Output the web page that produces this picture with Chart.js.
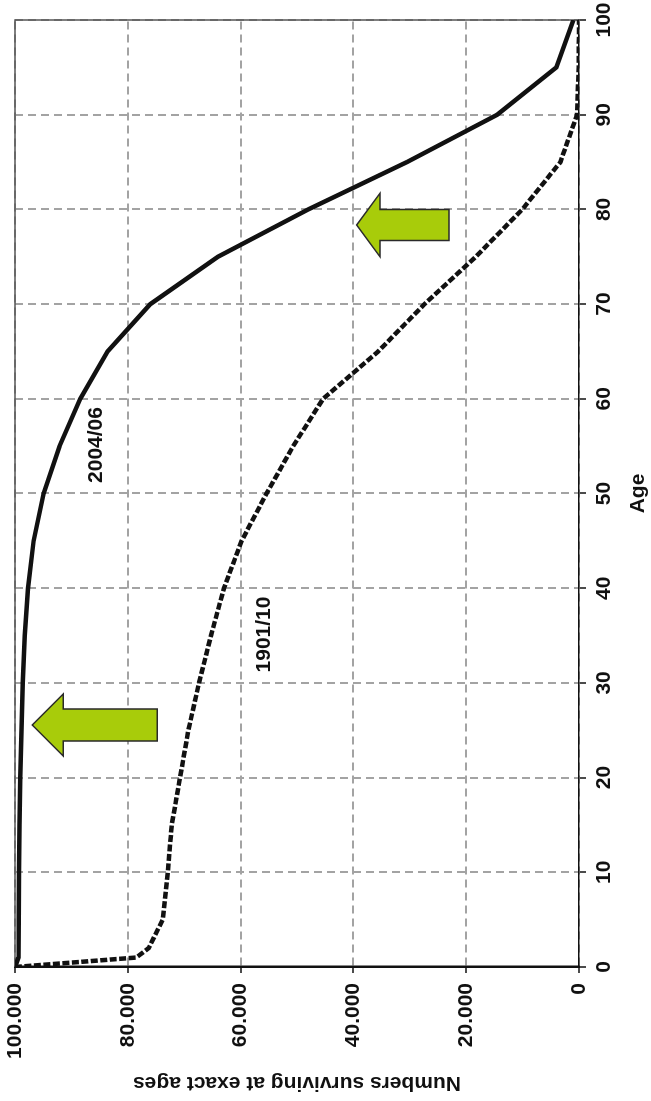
<!DOCTYPE html>
<html><head><meta charset="utf-8">
<script src="https://cdn.jsdelivr.net/npm/chart.js@4.4.1/dist/chart.umd.min.js"></script>
<style>
html,body{margin:0;padding:0;background:#fff;width:651px;height:1101px;overflow:hidden;}
#wrap{position:absolute;left:0;top:0;width:1101px;height:651px;transform-origin:0 0;transform:translate(0px,1101px) rotate(-90deg);}
</style></head><body>
<div id="wrap"><canvas id="c" width="1101" height="651"></canvas></div>
<script>
// ---- data ----
const seriesNames = ['2004/06', '1901/10'];
const ages2004 = [0, 1, 5, 10, 15, 20, 25, 30, 35, 40, 45, 50, 55, 60, 65, 70, 75, 80, 85, 90, 95, 100];
const surv2004 = [100000, 99400, 99320, 99290, 99200, 99060, 98850, 98640, 98250, 97700, 96700, 94930, 92100, 88440, 83600, 76000, 64000, 48000, 30500, 14500, 4000, 1000];
const ages1901 = [0, 1, 2, 5, 10, 15, 20, 25, 30, 35, 40, 45, 50, 55, 60, 65, 70, 75, 80, 85, 90, 95, 100];
const surv1901 = [100000, 78500, 76300, 73800, 72920, 72210, 70740, 69260, 67370, 65250, 62950, 59820, 55400, 50680, 45370, 35600, 27400, 18300, 10050, 3300, 350, 60, 0];
const ageTicks = [0, 10, 20, 30, 40, 50, 60, 70, 80, 90, 100];
const survTickValues = [0, 20000, 40000, 60000, 80000, 100000];
const survTickLabels = ['0', '20.000', '40.000', '60.000', '80.000', '100.000'];
const xTitle = 'Age';
const yTitle = 'Numbers surviving at exact ages';

// ---- helpers ----
const W = 1101;                       // unrotated canvas width
function S(x, y) { return [W - y, x]; } // page (rotated) coords -> canvas coords

const FONT = '"Liberation Sans", Arial, Helvetica, sans-serif';
Chart.defaults.font.family = FONT;
Chart.defaults.font.size = 21;
Chart.defaults.font.weight = 'bold';
Chart.defaults.color = '#111';

const arrowsPage = [
  {tipX: 32.3, cy: 725, headX: 63.3, hh: 31, sh: 16, endX: 157.3},
  {tipX: 356.7, cy: 225, headX: 380, hh: 31.7, sh: 15.5, endX: 449}
];
const seriesLabelPos = [
  {text: seriesNames[0], x: 96, y: 445},
  {text: seriesNames[1], x: 264.5, y: 634.5}
];

const overlay = {
  id: 'overlay',
  beforeDatasetsDraw(chart) {
    const {ctx, chartArea: a} = chart;
    ctx.save();
    ctx.strokeStyle = '#555';
    ctx.lineWidth = 1.5;
    ctx.beginPath();
    ctx.moveTo(a.left, a.top);
    ctx.lineTo(a.right, a.top);
    ctx.lineTo(a.right, a.bottom);
    ctx.stroke();
    ctx.restore();
  },
  afterDatasetsDraw(chart) {
    const ctx = chart.ctx;
    ctx.save();
    arrowsPage.forEach(ar => {
      const pts = [
        [ar.tipX, ar.cy],
        [ar.headX, ar.cy - ar.hh],
        [ar.headX, ar.cy - ar.sh],
        [ar.endX, ar.cy - ar.sh],
        [ar.endX, ar.cy + ar.sh],
        [ar.headX, ar.cy + ar.sh],
        [ar.headX, ar.cy + ar.hh]
      ].map(p => S(p[0], p[1]));
      ctx.beginPath();
      ctx.moveTo(pts[0][0], pts[0][1]);
      for (let i = 1; i < pts.length; i++) ctx.lineTo(pts[i][0], pts[i][1]);
      ctx.closePath();
      ctx.fillStyle = '#a8cc0a';
      ctx.fill();
      ctx.strokeStyle = '#2a2a2a';
      ctx.lineWidth = 1.5;
      ctx.lineJoin = 'miter';
      ctx.stroke();
    });
    ctx.fillStyle = '#111';
    ctx.font = 'bold 21px ' + FONT;
    ctx.textAlign = 'center';
    ctx.textBaseline = 'middle';
    seriesLabelPos.forEach(l => {
      const p = S(l.x, l.y);
      ctx.fillText(l.text, p[0], p[1]);
    });
    ctx.restore();
  }
};

new Chart(document.getElementById('c'), {
  type: 'line',
  data: {
    datasets: [
      {
        label: seriesNames[0],
        data: ages2004.map((a, i) => ({x: a, y: surv2004[i]})),
        borderColor: '#111',
        borderWidth: 4.5,
        pointRadius: 0,
        tension: 0,
        fill: false
      },
      {
        label: seriesNames[1],
        data: ages1901.map((a, i) => ({x: a, y: surv1901[i]})),
        borderColor: '#111',
        borderWidth: 4.5,
        borderDash: [7, 2.5],
        pointRadius: 0,
        tension: 0,
        fill: false
      }
    ]
  },
  options: {
    responsive: false,
    animation: false,
    devicePixelRatio: 1,
    layout: {padding: {top: 15, right: 20, left: 0, bottom: 0}},
    plugins: {legend: {display: false}, tooltip: {enabled: false}},
    scales: {
      x: {
        type: 'linear',
        min: 0, max: 100,
        afterBuildTicks(s) { s.ticks = ageTicks.map(v => ({value: v})); },
        afterFit(s) { s.height = 72; s.paddingLeft = 0; s.paddingRight = 0; },
        ticks: {padding: 6, maxRotation: 0, autoSkip: false, color: '#111', font: {size: 21, weight: 'bold'}},
        grid: {color: '#a3a3a3', lineWidth: 2, tickLength: 7, tickColor: '#111', tickWidth: 1.5},
        border: {display: true, color: '#111', width: 1.5, dash: [8, 5]},
        title: {display: true, text: xTitle, padding: {top: 0, bottom: 0}, font: {size: 21, weight: 'bold'}, color: '#111'}
      },
      y: {
        type: 'linear',
        min: 0, max: 100000,
        afterBuildTicks(s) { s.ticks = survTickValues.map(v => ({value: v})); },
        afterFit(s) { s.width = 134; s.paddingTop = 0; s.paddingBottom = 0; },
        ticks: {
          padding: 10, color: '#111', font: {size: 21, weight: 'bold'},
          callback: (v) => survTickLabels[survTickValues.indexOf(v)]
        },
        grid: {color: '#a3a3a3', lineWidth: 2, tickLength: 6, tickColor: '#111', tickWidth: 1.5},
        border: {display: true, color: '#111', width: 2.5, dash: [8, 5]},
        title: {display: true, text: yTitle, padding: {top: 6, bottom: 0}, font: {size: 21, weight: 'bold'}, color: '#111'}
      }
    }
  },
  plugins: [overlay]
});
</script>
</body></html>
